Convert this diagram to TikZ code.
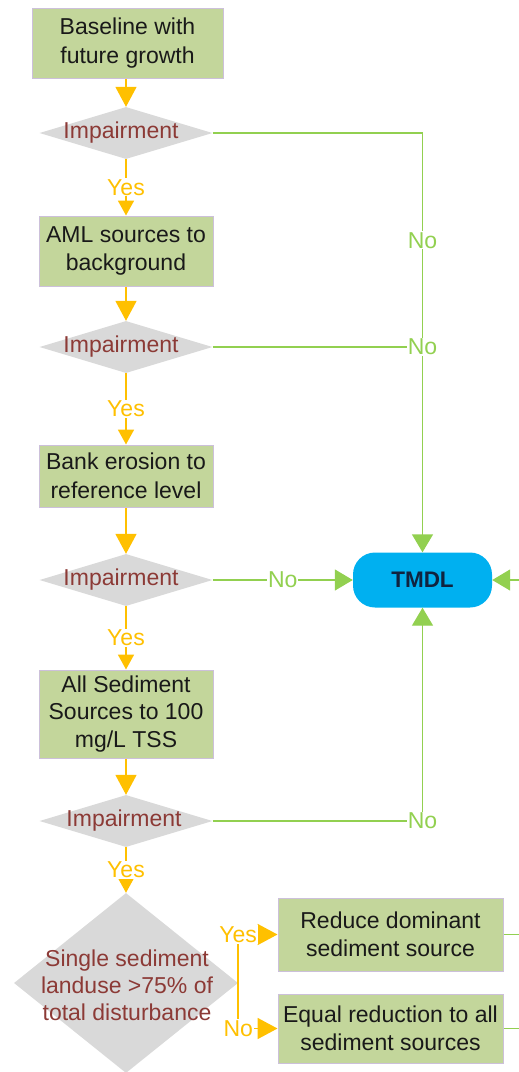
\documentclass[tikz,border=0pt]{standalone}
\usepackage{fontspec}
\setmainfont{Liberation Sans}
\usetikzlibrary{shapes.geometric,arrows.meta}
\definecolor{boxg}{HTML}{C3D69B}
\definecolor{boxb}{HTML}{CCC0DA}
\definecolor{diac}{HTML}{D9D9D9}
\definecolor{org}{HTML}{FFC000}
\definecolor{grn}{HTML}{92D050}
\definecolor{cyn}{HTML}{00B0F0}
\definecolor{mar}{HTML}{8C3A36}
\definecolor{navy}{HTML}{10233F}
\begin{document}
\begin{tikzpicture}[x=1pt,y=-1pt,
  every node/.style={font=\fontsize{23}{28.5}\selectfont},
  stepbox/.style={draw=boxb, line width=1pt, fill=boxg, inner sep=0pt, align=center, text=black!90},
  diashape/.style={diamond, fill=diac, inner sep=0pt, draw=none},
  dtext/.style={text=mar, align=center, inner sep=0pt},
  oarr/.style={draw=org, line width=1.8pt, -{Triangle[length=20pt,width=21pt]}},
  oarrs/.style={draw=org, line width=1.8pt, -{Triangle[length=15pt,width=16pt]}},
  garr/.style={draw=grn, line width=1.4pt, -{Triangle[length=18pt,width=21pt]}},
  gline/.style={draw=grn, line width=1.4pt},
  ylab/.style={text=org, fill=white, inner sep=1pt, font=\fontsize{23}{26}\selectfont},
  nlab/.style={text=grn, fill=white, inner sep=1pt, font=\fontsize{23}{26}\selectfont},
]
\useasboundingbox (0,0) rectangle (519,1072);

% boxes
\node[stepbox, minimum width=191pt, minimum height=70pt] (b1) at (127.5,43) {Baseline with\\future growth};
\node[stepbox, minimum width=174pt, minimum height=70pt] (b2) at (126,251) {AML sources to\\background};
\node[stepbox, minimum width=174pt, minimum height=62pt] (b3) at (126,476) {Bank erosion to\\reference level};
\node[stepbox, minimum width=174pt, minimum height=88pt, font=\fontsize{23}{27.5}\selectfont] (b4) at (126,714) {All Sediment\\Sources to 100\\mg/L TSS};
\node[stepbox, minimum width=225pt, minimum height=73pt] (b6) at (390.5,934.5) {Reduce dominant\\sediment source};
\node[stepbox, minimum width=225pt, minimum height=69pt] (b7) at (390.5,1028.5) {Equal reduction to all\\sediment sources};

% diamonds
\node[diashape, minimum width=173pt, minimum height=52pt] (d1) at (126,133) {};
\node[dtext] (t1) at (121,133) {Impairment};
\node[diashape, minimum width=173pt, minimum height=52pt] (d2) at (126,347) {};
\node[dtext] (t2) at (121,347) {Impairment};
\node[diashape, minimum width=173pt, minimum height=52pt] (d3) at (126,580) {};
\node[dtext] (t3) at (121,580) {Impairment};
\node[diashape, minimum width=173pt, minimum height=52pt] (d4) at (126,821) {};
\node[dtext] (t4) at (124,821) {Impairment};
\node[diashape, minimum width=224pt, minimum height=180pt] (d5) at (126,983) {};
\node[dtext, font=\fontsize{23}{27}\selectfont] (t5) at (127,985) {Single sediment\\landuse >75\% of\\total disturbance};

% TMDL
\node[fill=cyn, rounded corners=22pt, minimum width=139pt, minimum height=55pt, inner sep=0pt,
      font=\bfseries\fontsize{22.5}{26}\selectfont, text=navy] (tm) at (422.5,580) {TMDL};

% free ends at the right edge
\coordinate (e6) at (530,934.5);
\coordinate (e7) at (530,1028.5);
\coordinate (rin) at (530,580);

% orange flow
\draw[oarr] (b1.south -| d1.north) -- (d1.north);
\draw[oarrs] (d1.south) -- node[ylab]{Yes} (b2.north);
\draw[oarr] (b2.south) -- (d2.north);
\draw[oarrs] (d2.south) -- node[ylab]{Yes} (b3.north);
\draw[oarr] (b3.south) -- (d3.north);
\draw[oarrs] (d3.south) -- node[ylab]{Yes} (b4.north);
\draw[oarr] (b4.south) -- (d4.north);
\draw[oarrs] (d4.south) -- node[ylab]{Yes} (d5.north);
\draw[oarr] (d5.east) |- node[ylab, pos=0.5]{Yes} (b6.west);
\draw[oarr] (d5.east) |- node[ylab, pos=0.5]{No} (b7.west);

% green No branches
\draw[garr] (d1.east) -| node[nlab, pos=0.628]{No} (tm.north);
\draw[gline] (d2.east) -- (d2.east -| tm.north) node[nlab]{No};
\draw[garr] (d3.east) -- node[nlab]{No} (tm.west);
\draw[garr] (d4.east) -| node[nlab, pos=0.5]{No} (tm.south);
\draw[gline] (b6.east) -- (e6);
\draw[gline] (b7.east) -- (e7);
\draw[garr] (rin) -- (tm.east);
\end{tikzpicture}
\end{document}
